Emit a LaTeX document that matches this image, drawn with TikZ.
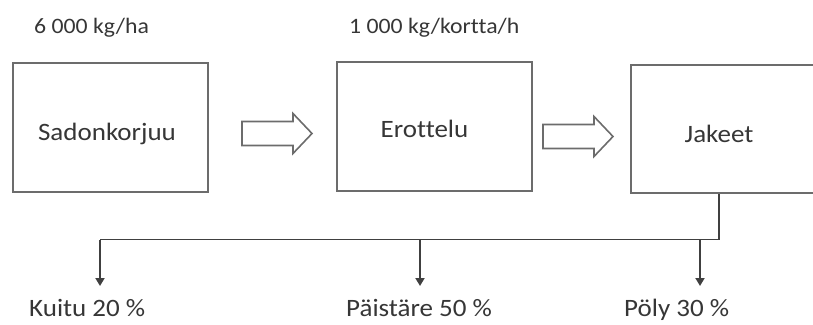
\documentclass[tikz,border=0pt]{standalone}
\usepackage{fontspec}
\setmainfont[FakeStretch=1.08,Ligatures=NoCommon]{Carlito}
\usetikzlibrary{arrows.meta}
\definecolor{txt}{HTML}{363636}
\definecolor{boxc}{HTML}{6C6C6C}
\definecolor{linec}{HTML}{404040}
\begin{document}
\begin{tikzpicture}[x=1pt,y=-1pt,
  procbox/.style={draw=boxc,line width=2.2pt,minimum width=195pt,minimum height=129pt,inner sep=0pt},
  lbl/.style={text=txt,inner sep=0pt,font=\fontsize{25}{30}\selectfont},
  toplbl/.style={text=txt,inner sep=0pt,font=\fontsize{22}{26}\selectfont},
  blockarrow/.style={draw=boxc,line width=1.6pt,line join=miter,fill=white},
  conn/.style={draw=linec,line width=1.8pt},
  tip/.style={-{Triangle[width=9pt,length=8pt]}}]
\useasboundingbox (0,0) rectangle (813,324);
\clip (0,0) rectangle (813,324);
% boxes
\node[procbox] (b1) at (110.5,127.5) {};
\node[procbox] (b2) at (434.5,126.5) {};
\node[procbox,minimum width=186pt,minimum height=128pt] (b3) at (724,129) {};
% box labels
\node[lbl,anchor=base] (t1) at (107,140) {Sadonkorjuu};
\node[lbl,anchor=base] (t2) at (424.5,137) {Erottelu};
\node[lbl,anchor=base] (t3) at (719,142) {Jakeet};
% top labels
\node[toplbl,anchor=base west] (q1) at (34,33) {6 000 kg/ha};
\node[toplbl,anchor=base west] (q2) at (349,33) {1 000 kg/kortta/h};
% block arrows
\coordinate (a1) at (277,133.5);
\coordinate (a2) at (578,136.5);
\foreach \c in {a1,a2}{
  \draw[blockarrow] ([shift={(-35,-12)}]\c) -- ([shift={(16,-12)}]\c) -- ([shift={(16,-20)}]\c)
    -- ([shift={(35,0)}]\c) -- ([shift={(16,20)}]\c) -- ([shift={(16,12)}]\c)
    -- ([shift={(-35,12)}]\c) -- cycle;
}
% distribution
\coordinate (js) at (b3.south -| t3);
\coordinate (hk) at (100,239.5);
\coordinate (hp) at (420,239.5);
\coordinate (hy) at (700,239.5);
\coordinate (ek) at (100,286);
\coordinate (ep) at (420,286);
\coordinate (ey) at (700,286);
\draw[conn] (js) |- (hk);
\draw[conn,tip] (hk) -- (ek);
\draw[conn,tip] (hp) -- (ep);
\draw[conn,tip] (hy) -- (ey);
% bottom labels
\node[lbl,anchor=base west] (k) at (29,316) {Kuitu 20 \%};
\node[lbl,anchor=base west] (p) at (346,316) {Päistäre 50 \%};
\node[lbl,anchor=base west] (y) at (624,316) {Pöly 30 \%};
\end{tikzpicture}
\end{document}
